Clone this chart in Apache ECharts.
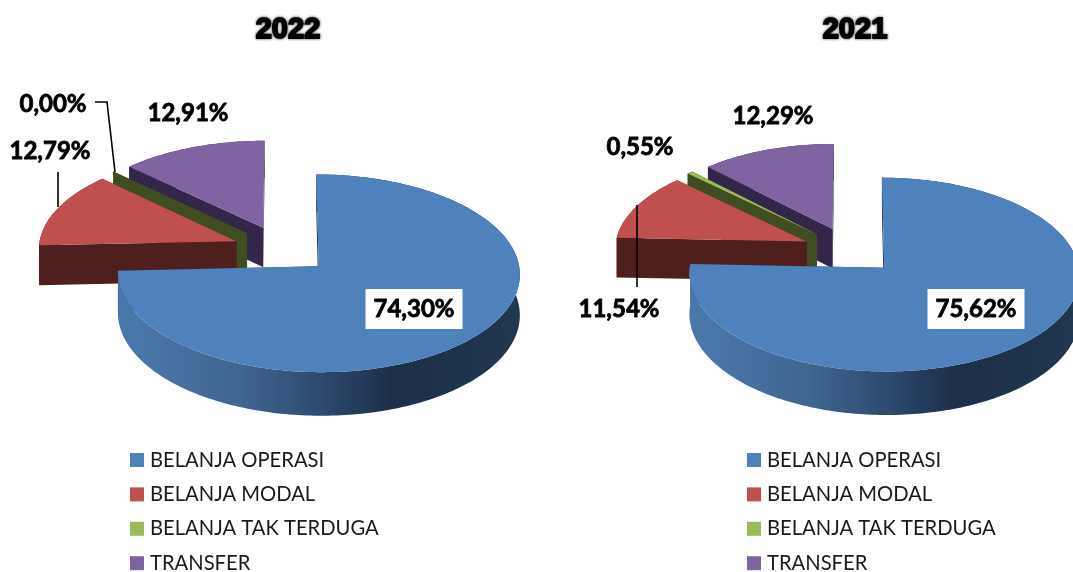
<!DOCTYPE html>
<html>
<head>
<meta charset="utf-8">
<style>
  html, body { margin: 0; padding: 0; background: #fff; }
  #chart { width: 1073px; height: 572px; }
</style>
<script src="https://cdn.jsdelivr.net/npm/echarts@6/dist/echarts.min.js"></script>
</head>
<body>
<div id="chart"></div>
<script>
const categories = ['BELANJA OPERASI', 'BELANJA MODAL', 'BELANJA TAK TERDUGA', 'TRANSFER'];
const years = ['2022', '2021'];
const values2022 = [74.30, 12.79, 0.00, 12.91];
const values2021 = [75.62, 11.54, 0.55, 12.29];

const topColors = ['#4f81bd', '#bf504d', '#9bbb59', '#8064a2'];
const wallColors = ['#1f3650', '#4f1f1e', '#3f4d20', '#33264a'];
const blueRimStops = [
  {offset: 0, color: '#4a77aa'},
  {offset: 0.27, color: '#3f6590'},
  {offset: 0.47, color: '#2d4a70'},
  {offset: 0.65, color: '#1c2f48'},
  {offset: 1, color: '#203850'}
];

// 饼图的透视参数
const pie2022 = {cx: 282.5, cy: 249.5, rx: 198, ry: 96, k: 0.07, depth: 40, explode: 0.25};
const pie2021 = {cx: 850.5, cy: 250.5, rx: 192, ry: 94, k: 0.07, depth: 40, explode: 0.25};

// label center + optional leader line, per category
const labels2022 = [
  {x: 414, y: 309, box: true},
  {x: 50, y: 151, line: [[58, 172], [58, 207]]},
  {x: 53, y: 104, line: [[95, 102], [107, 102], [115, 172]]},
  {x: 188, y: 113}
];
const labels2021 = [
  {x: 976, y: 309, box: true},
  {x: 619, y: 309, line: [[637, 205], [637, 287]]},
  {x: 640, y: 147},
  {x: 773, y: 116}
];

function formatPct(v) {
  return v.toFixed(2).replace('.', ',') + '%';
}

function project(p, u, v, down) {
  const w = 1 + p.k * v;
  return [p.cx + p.rx * u / w, p.cy - p.ry * v / w + (down ? p.depth / w : 0)];
}

function makeRenderItem(p, values, labels, catIndex) {
  let before = 0;
  for (let i = 0; i < catIndex; i++) before += values[i];
  return function (params, api) {
    const val = api.value(0);
    const a0 = before / 100 * Math.PI * 2;
    const a1 = (before + val) / 100 * Math.PI * 2;
    const mid = (a0 + a1) / 2;
    const ox = Math.sin(mid) * p.explode;
    const oy = Math.cos(mid) * p.explode;

    const steps = Math.max(2, Math.ceil((a1 - a0) / 0.02));
    const arcTop = [];
    const arcBottom = [];
    for (let i = 0; i <= steps; i++) {
      const a = a0 + (a1 - a0) * i / steps;
      const u = ox + Math.sin(a);
      const v = oy + Math.cos(a);
      arcTop.push(project(p, u, v, false));
      arcBottom.push(project(p, u, v, true));
    }
    const apexTop = project(p, ox, oy, false);
    const apexBottom = project(p, ox, oy, true);

    const wall = wallColors[catIndex];
    const children = [];

    // back wall first, then the wall facing us, then rim and top
    children.push({
      type: 'polygon',
      shape: {points: [apexTop, arcTop[steps], arcBottom[steps], apexBottom]},
      style: {fill: wall}
    });
    children.push({
      type: 'polygon',
      shape: {points: [apexTop, arcTop[0], arcBottom[0], apexBottom]},
      style: {fill: wall}
    });
    let rimFill = wall;
    if (catIndex === 0) {
      const left = p.cx - p.rx * 0.75;
      rimFill = new echarts.graphic.LinearGradient(left, 0, left + p.rx * 2, 0, blueRimStops, true);
    }
    children.push({
      type: 'polygon',
      shape: {points: arcTop.concat(arcBottom.slice().reverse())},
      style: {fill: rimFill}
    });
    children.push({
      type: 'polygon',
      shape: {points: [apexTop].concat(arcTop)},
      style: {fill: topColors[catIndex]}
    });

    const lab = labels[catIndex];
    if (lab.line) {
      children.push({
        type: 'polyline',
        shape: {points: lab.line},
        style: {fill: null, stroke: '#000', lineWidth: 1.6}
      });
    }
    const textStyle = {
      text: formatPct(val),
      x: lab.x,
      y: lab.y,
      align: 'center',
      verticalAlign: 'middle',
      fontFamily: 'Lato',
      fontWeight: 'bold',
      fontSize: 24,
      fill: '#000',
      stroke: '#000',
      lineWidth: 0.8
    };
    if (lab.box) {
      textStyle.backgroundColor = '#fff';
      textStyle.padding = [8, 8, 8, 8];
    }
    children.push({type: 'text', style: textStyle});

    return {type: 'group', children: children};
  };
}

function buildSeries(p, values, labels) {
  // 绘制顺序：从后往前
  return [3, 2, 1, 0].map(function (i) {
    return {
      type: 'custom',
      name: categories[i],
      coordinateSystem: 'none',
      silent: true,
      animation: false,
      itemStyle: {color: topColors[i]},
      data: [[values[i]]],
      renderItem: makeRenderItem(p, values, labels, i)
    };
  });
}

function buildTitle(text, x) {
  return {
    text: text,
    left: x,
    top: 15,
    padding: 0,
    textAlign: 'center',
    textStyle: {
      fontFamily: 'Liberation Sans',
      fontWeight: 'bold',
      fontSize: 29,
      color: '#000',
      textBorderColor: '#000',
      textBorderWidth: 1.8,
      textShadowColor: 'rgba(0,0,0,0.6)',
      textShadowBlur: 3
    }
  };
}

function buildLegend(x) {
  return {
    orient: 'vertical',
    left: x,
    top: 450,
    height: 140,
    padding: 0,
    selectedMode: false,
    icon: 'rect',
    itemWidth: 14,
    itemHeight: 14,
    itemGap: 14.4,
    data: categories,
    textStyle: {fontFamily: 'Lato', fontSize: 20.2, color: '#1a1a1a', padding: [0, 0, 0, 1]}
  };
}

const chart = echarts.init(document.getElementById('chart'));
chart.setOption({
  animation: false,
  backgroundColor: '#fff',
  title: [buildTitle(years[0], 288), buildTitle(years[1], 855)],
  legend: [buildLegend(130), buildLegend(747)],
  series: buildSeries(pie2022, values2022, labels2022).concat(buildSeries(pie2021, values2021, labels2021))
});
window.addEventListener('resize', () => chart.resize());
</script>
</body>
</html>
